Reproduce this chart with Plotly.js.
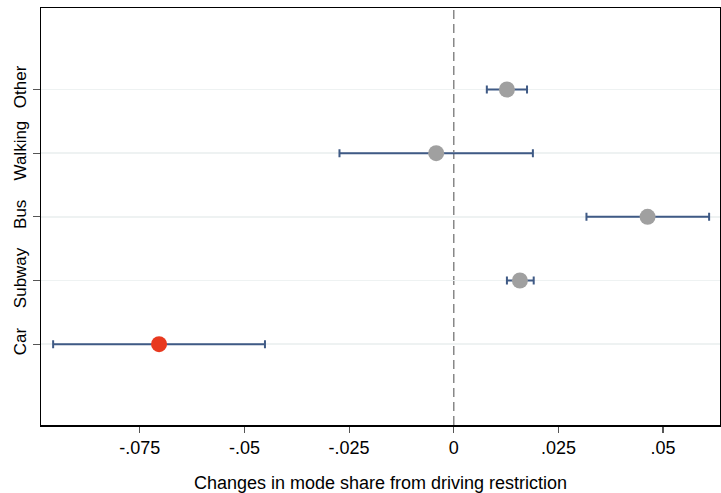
<!DOCTYPE html>
<html>
<head>
<meta charset="utf-8">
<script src="https://cdn.plot.ly/plotly-3.0.1.min.js"></script>
<style>html,body{margin:0;padding:0;background:#fff;}#chart{width:721px;height:493px;}</style>
</head>
<body>
<div id="chart"></div>
<script>
// Data
const categories = ["Car", "Subway", "Bus", "Walking", "Other"];
const estimates = [-0.0704, 0.0158, 0.0463, -0.0042, 0.0127];
const lower = [-0.0957, 0.0127, 0.0317, -0.0273, 0.0079];
const upper = [-0.0451, 0.0191, 0.0610, 0.0189, 0.0175];
const xTickVals = [-0.075, -0.05, -0.025, 0, 0.025, 0.05];
const xTickText = ["-.075", "-.05", "-.025", "0", ".025", ".05"];
const highlight = "Car";

const ypos = categories.map((c, i) => i + 1);
const trace = {
  type: "scatter",
  mode: "markers",
  x: estimates,
  y: ypos,
  marker: {
    size: 16,
    color: categories.map(c => c === highlight ? "#e8391f" : "#a0a0a0"),
    line: {width: 0}
  },
  error_x: {
    type: "data",
    symmetric: false,
    array: upper.map((u, i) => u - estimates[i]),
    arrayminus: estimates.map((e, i) => e - lower[i]),
    color: "#3f5a85",
    thickness: 2,
    width: 4
  },
  hoverinfo: "skip",
  showlegend: false
};

const layout = {
  width: 721,
  height: 493,
  margin: {l: 41, r: 1, t: 8, b: 68},
  paper_bgcolor: "#fff",
  plot_bgcolor: "#fff",
  font: {family: "Liberation Sans, Arial, Helvetica, sans-serif", color: "#000"},
  xaxis: {
    range: [-0.0986, 0.0636],
    tickvals: xTickVals,
    ticktext: xTickText,
    ticks: "outside",
    ticklen: 6,
    tickwidth: 1.2,
    tickcolor: "#555",
    tickfont: {size: 18},
    showgrid: false,
    zeroline: false,
    showline: true,
    linecolor: "#000",
    linewidth: 1.5,
    mirror: true,
    title: {text: "Changes in mode share from driving restriction", font: {size: 18}, standoff: 20}
  },
  yaxis: {
    range: [-0.27, 6.28],
    tickvals: ypos,
    ticktext: categories,
    tickangle: -90,
    ticks: "outside",
    ticklen: 7,
    tickwidth: 1.2,
    tickcolor: "#555",
    tickfont: {size: 17},
    showgrid: true,
    gridcolor: "#eef2f2",
    gridwidth: 1.5,
    zeroline: false,
    showline: true,
    linecolor: "#000",
    linewidth: 1.5,
    mirror: true
  },
  shapes: [{
    type: "line",
    xref: "x",
    yref: "paper",
    x0: 0, x1: 0, y0: 0, y1: 1,
    line: {color: "#888", width: 1.5, dash: "9px,5px"},
    layer: "below"
  }]
};

Plotly.newPlot("chart", [trace], layout, {staticPlot: true, displayModeBar: false});
</script>
</body>
</html>
